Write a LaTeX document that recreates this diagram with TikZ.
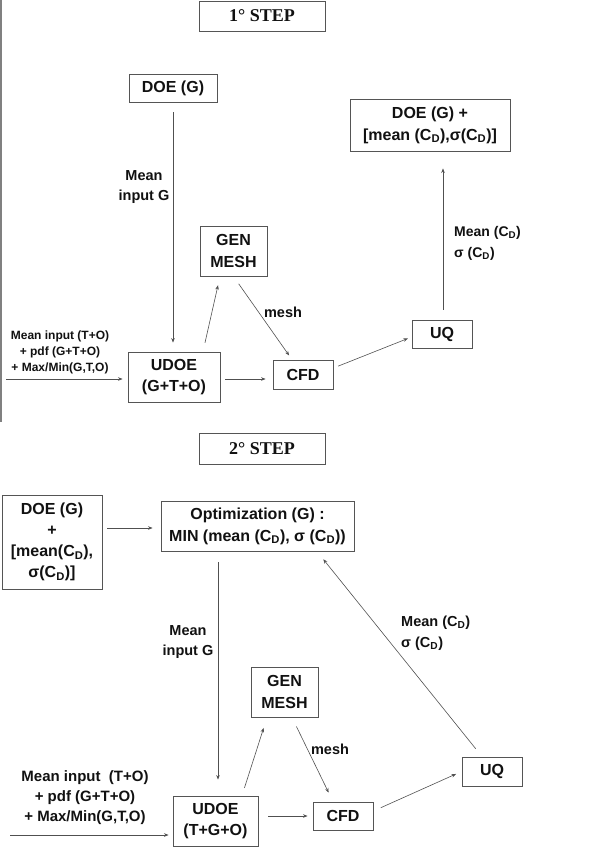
\documentclass[tikz,border=0pt]{standalone}
\usepackage{fontspec}
\setmainfont{Liberation Sans}
\newfontfamily\stepfont{Liberation Serif}
\usetikzlibrary{arrows.meta}
\newcommand{\CD}{C\textsubscript{D}}
\definecolor{boxc}{HTML}{555555}
\definecolor{arrc}{HTML}{505050}
\definecolor{txtc}{HTML}{111111}
\tikzset{
  bx/.style={draw=boxc, line width=0.9pt, inner sep=0pt, align=center, text=txtc,
    font=\bfseries\fontsize{16}{21}\selectfont},
  stepbox/.style={draw=boxc, line width=0.9pt, inner sep=0pt, align=center, text=txtc,
    minimum width=126pt, minimum height=30pt, font=\stepfont\bfseries\fontsize{18}{20}\selectfont},
  lbl/.style={align=center, text=txtc, inner sep=0pt, font=\bfseries\fontsize{14.5}{20}\selectfont},
  arr/.style={draw=arrc, line width=0.6pt, -{Stealth[length=4.5pt,width=3.5pt]}},
}
\begin{document}
\begin{tikzpicture}[x=1pt,y=-1pt]
\useasboundingbox (0,0) rectangle (589,847);
\draw[gray, line width=2pt] (1,0) -- (1,422);
% ---------- 1st step ----------
\node[stepbox] (step1) at (262,16) {1° STEP};
\node[bx, minimum width=88pt, minimum height=28pt] (doeG) at (173,88) {DOE (G)};
\node[bx, minimum width=160pt, minimum height=52pt, font=\bfseries\fontsize{16}{22}\selectfont] (doeres) at (430,125) {DOE (G) +\\{[}mean (\CD),σ(\CD)]};
\node[bx, minimum width=67pt, minimum height=50pt, font=\bfseries\fontsize{16}{22}\selectfont] (gen1) at (233.5,251) {GEN\\MESH};
\node[bx, minimum width=92pt, minimum height=50pt] (udoe1) at (174,377) {UDOE\\(G+T+O)};
\node[bx, minimum width=60pt, minimum height=29pt] (cfd1) at (303,374.5) {CFD};
\node[bx, minimum width=60pt, minimum height=28pt] (uq1) at (442,334) {UQ};
\node[lbl, font=\bfseries\fontsize{12}{16}\selectfont] (in1lbl) at (60,352) {Mean input (T+O)\\+ pdf (G+T+O)\\+ Max/Min(G,T,O)};
\node[lbl] (mig1) at (144,187) {Mean\\input G};
\node[lbl] (mesh1) at (283,312) {mesh};
\node[lbl, anchor=west, align=left, font=\bfseries\fontsize{14}{21}\selectfont] (cd1) at (454,243) {Mean (\CD)\\ σ (\CD)};
\coordinate (in1) at (6,379);
\draw[arr, shorten >=5pt] (in1) -- (in1 -| udoe1.west);
\draw[arr, shorten <=10pt, shorten >=9pt] (doeG.south) -- (udoe1.north -| doeG.south);
\draw[arr, shorten <=9pt, shorten >=9pt] ([xshift=29pt]udoe1.north) -- ([xshift=-13.5pt]gen1.south);
\draw[arr, shorten <=9pt, shorten >=5pt] (gen1.south) -- ([xshift=-11pt]cfd1.north);
\draw[arr, shorten <=5pt, shorten >=7pt] ([yshift=-2pt]udoe1.east) -- ([yshift=-4.5pt]cfd1.west);
\draw[arr, shorten <=5pt, shorten >=4pt] ([yshift=6.5pt]cfd1.east) -- ([yshift=-3pt]uq1.west);
\draw[arr, shorten <=10pt, shorten >=17pt] ([xshift=1pt]uq1.north) -- ([xshift=13pt]doeres.south);
% ---------- 2nd step ----------
\node[stepbox, minimum height=31pt] (step2) at (262,448.5) {2° STEP};
\node[bx, minimum width=100pt, minimum height=94pt] (doe2) at (52,542) {DOE (G)\\+\\{[}mean(\CD),\\σ(\CD)]};
\node[bx, minimum width=193pt, minimum height=50pt, font=\bfseries\fontsize{16}{22}\selectfont] (opt) at (257.5,526) {Optimization (G) :\\MIN (mean (\CD), σ (\CD))};
\node[bx, minimum width=67pt, minimum height=50pt, font=\bfseries\fontsize{16}{22}\selectfont] (gen2) at (284.5,692) {GEN\\MESH};
\node[bx, minimum width=85pt, minimum height=50pt] (udoe2) at (215.5,821) {UDOE\\(T+G+O)};
\node[bx, minimum width=60pt, minimum height=28pt] (cfd2) at (343,816) {CFD};
\node[bx, minimum width=60pt, minimum height=29pt] (uq2) at (492,771.5) {UQ};
\node[lbl, font=\bfseries\fontsize{15}{20}\selectfont] (in2lbl) at (85,798) {Mean input~~(T+O)\\+ pdf (G+T+O)\\+ Max/Min(G,T,O)};
\node[lbl] (mig2) at (188,642) {Mean\\input G};
\node[lbl] (mesh2) at (330,749) {mesh};
\node[lbl, anchor=west, align=left, font=\bfseries\fontsize{14.5}{21}\selectfont] (cd2) at (401,633) {Mean (\CD)\\σ (\CD)};
\coordinate (in2) at (10,835);
\draw[arr, shorten >=4pt] (in2) -- (in2 -| udoe2.west);
\draw[arr, shorten <=5pt, shorten >=8pt] ([yshift=14pt]doe2.east) -- ([yshift=-2pt]opt.west);
\draw[arr, shorten <=11pt, shorten >=16pt] ([xshift=-39.5pt]opt.south) -- ([xshift=2.5pt]udoe2.north);
\draw[arr, shorten <=8pt, shorten >=11pt] ([xshift=26.5pt]udoe2.north) -- ([xshift=-17.5pt]gen2.south);
\draw[arr, shorten <=10pt, shorten >=10pt] ([xshift=7.5pt]gen2.south) -- ([xshift=-10pt]cfd2.north);
\draw[arr, shorten <=10pt, shorten >=5pt] ([yshift=5pt]udoe2.east) -- (cfd2.west);
\draw[arr, shorten <=8pt, shorten >=6pt] ([yshift=5pt]cfd2.east) -- (uq2.west);
\draw[arr, shorten <=10pt, shorten >=10pt] ([xshift=-10pt]uq2.north) -- ([xshift=59.5pt]opt.south);
\end{tikzpicture}
\end{document}
